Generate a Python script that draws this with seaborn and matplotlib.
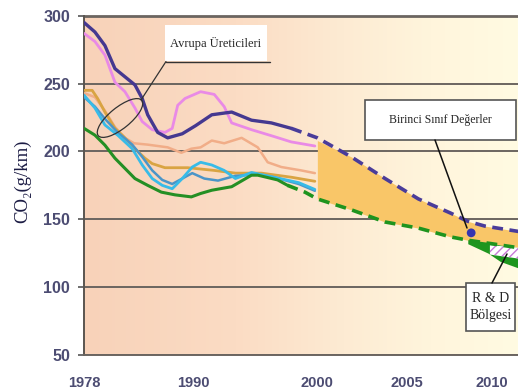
import numpy as np
import pandas as pd
import seaborn as sns
import matplotlib.pyplot as plt
from matplotlib.patches import Ellipse, Rectangle
from matplotlib.lines import Line2D
from matplotlib.colors import LinearSegmentedColormap

W, H = 518, 392

# --- values (year, g/km) ---
purple_years = [1978, 1979.2, 1980.3, 1981.4, 1982.5, 1983.6, 1984.4, 1985.0, 1986.1, 1987.2,
                1988.8, 1990.2, 1991.5, 1993.1, 1994.7, 1996.3, 1997.9]
purple_vals = [295, 288, 278, 261, 255, 249, 239, 227, 214, 210, 213, 219, 227, 229, 223, 221, 217]

purple_dash_years = [1997.9, 2000, 2001.9, 2003.8, 2005.7, 2007.6, 2008.6, 2009.6, 2011.6]
purple_dash_vals = [217, 210, 196, 180, 165, 154.5, 148.5, 145, 141]

pink_years = [1978, 1979.2, 1980.3, 1981.4, 1982.5, 1983.6, 1984.4, 1985.5, 1986.9, 1987.7,
              1988.3, 1989.1, 1990.6, 1991.7, 1992.5, 1993.1, 1994.7, 1996.5, 1997.9, 1999.8]
pink_vals = [287, 281, 271, 251, 244, 232, 222, 216, 214, 217, 234, 239, 244, 242, 233, 221,
             216, 211, 207, 204]

gold_years = [1978, 1978.9, 1979.5, 1980.3, 1981.4, 1982.5, 1983.6, 1984.7, 1985.5, 1986.9,
              1989.4, 1991.7, 1993.4, 1995.5, 1997.9, 1999.8]
gold_vals = [245, 245, 239, 229, 217, 210, 202, 195, 191, 188, 188, 186, 184, 184, 181, 178]

salmon_years = [1978, 1979.2, 1980.3, 1981.4, 1982.5, 1983.5, 1985.0, 1987.2, 1988.7, 1989.8,
                1990.6, 1991.5, 1992.5, 1993.9, 1995.2, 1996.0, 1997.1, 1998.7, 1999.8]
salmon_vals = [243, 240, 230, 218, 210, 206, 205, 203, 199, 202, 203, 208, 206, 210, 203, 192,
               188.5, 186, 184]

cyan_years = [1978, 1979.2, 1980.3, 1981.7, 1983.3, 1984.4, 1985.5, 1986.6, 1987.7, 1988.8,
              1989.9, 1990.6, 1991.5, 1992.5, 1993.4, 1994.7, 1996.5, 1998.5, 1999.8]
cyan_vals = [241.5, 232, 219.5, 212, 202, 190, 180, 175, 172.5, 180, 188.5, 192, 190, 186, 180,
             184.5, 181, 177, 172]

steel_years = [1978, 1979.2, 1980.3, 1981.7, 1983.3, 1984.4, 1985.5, 1986.6, 1987.7, 1988.8,
               1989.9, 1990.9, 1992.0, 1993.4, 1995.2, 1996.5, 1998.5, 1999.8]
steel_vals = [240, 233, 224, 214, 205, 196, 186, 179, 176, 180, 184, 180, 178.5, 182, 183, 181,
              176, 171]

green_years = [1978, 1979.2, 1980.3, 1981.4, 1982.5, 1983.6, 1985.0, 1986.5, 1988.0, 1989.8,
               1990.6, 1991.5, 1993.1, 1994.7, 1995.2, 1996.8, 1997.6]
green_vals = [217, 212, 204.6, 195, 187.5, 180, 175, 170, 168, 166.5, 169, 171.4, 174, 182.5,
              182.5, 179, 175]

green_dash_years = [1997.6, 1999.0, 2000, 2001.9, 2003.8, 2005.7, 2007.6, 2008.6, 2010, 2011.6]
green_dash_vals = [175, 170, 165, 157, 148, 143.5, 137, 134.6, 132, 129]

band_years = [2000, 2001.9, 2003.8, 2005.7, 2007.6, 2008.6, 2009.6, 2011.6]
band_upper = [208, 196, 180, 165, 154.5, 148.5, 145, 141]
band_lower = [165, 157, 148, 143.5, 137, 134.6, 132.5, 129]

rd_years = [2008.6, 2009.8, 2010.5, 2011.6]
rd_upper = [135, 133, 131, 129]
rd_lower = [132, 125, 119, 114]

hatch_years = [2009.9, 2011.6]
hatch_upper = [131, 129]
hatch_lower = [124, 121]

dot_year = [2008.8]
dot_val = [140]

tick_years = [1978, 1990, 2000, 2005, 2010]
tick_labels = ['1978', '1990', '2000', '2005', '2010']
y_ticks = [50, 100, 150, 200, 250, 300]

# the original axis is not linear in time: piecewise scale through the tick marks
scale_years = [1970, 1978, 1990, 2000, 2005, 2010, 2020]
scale_pos = [-72.7, 0, 109, 233, 322, 407, 577]


def fwd(x):
    return np.interp(x, scale_years, scale_pos)


def inv(x):
    return np.interp(x, scale_pos, scale_years)


sns.set_style('white')
fig = plt.figure(figsize=(W / 100, H / 100), dpi=100)
ax = fig.add_axes([84 / W, 1 - 355 / H, 1 - 84 / W, (355 - 15.7) / H])

# background gradient (peach -> pale yellow)
cmap = LinearSegmentedColormap.from_list(
    'bg', [(0, '#f8d2b9'), (0.35, '#fbdcc4'), (0.6, '#fdebd3'), (0.8, '#fff5dc'), (1, '#fffbe2')])
grad = np.linspace(0, 1, 256).reshape(1, -1)
ax.imshow(grad, cmap=cmap, extent=[0, 1, 0, 1], transform=ax.transAxes, aspect='auto', zorder=0)

# projection band
ax.fill_between(band_years, band_lower, band_upper, color='#f9c668', lw=0, zorder=2)
ax.fill_between(rd_years, rd_lower, rd_upper, color='#1e961e', lw=0, zorder=2)
ax.fill_between(hatch_years, hatch_lower, hatch_upper, facecolor='white', edgecolor='#c77ad6',
                hatch='////', lw=0, zorder=3)

series = [
    (pink_years, pink_vals, '#e98ae6', 2.0),
    (salmon_years, salmon_vals, '#f1ad88', 1.8),
    (gold_years, gold_vals, '#d9a443', 2.0),
    (steel_years, steel_vals, '#4b95c8', 1.8),
    (cyan_years, cyan_vals, '#38bbe8', 2.0),
    (green_years, green_vals, '#248f24', 2.2),
    (purple_years, purple_vals, '#453890', 2.4),
]
for xs, ys, c, lw in series:
    sns.lineplot(x=xs, y=ys, color=c, lw=lw, ax=ax, zorder=4)

sns.lineplot(x=green_dash_years, y=green_dash_vals, color='#1e941e', lw=2.6,
             linestyle=(0, (3, 1.8)), ax=ax, zorder=4)
sns.lineplot(x=purple_dash_years, y=purple_dash_vals, color='#4a3c9a', lw=2.6,
             linestyle=(0, (3, 1.8)), ax=ax, zorder=5)
sns.scatterplot(x=dot_year, y=dot_val, color='#3535b0', s=40, edgecolor='none', ax=ax, zorder=6)

ax.set_xscale('function', functions=(fwd, inv))
ax.set_xlim(1978, 2011.55)
ax.set_ylim(50, 300)

ax.set_yticks(y_ticks)
ax.set_xticks(tick_years)
ax.set_xticklabels(tick_labels)
ax.yaxis.grid(True, color='#6b6560', lw=1.4, zorder=1)
ax.set_axisbelow(True)
for lab in ax.get_xticklabels() + ax.get_yticklabels():
    lab.set_family('Liberation Sans')
    lab.set_weight('bold')
    lab.set_color('#4c4c72')
for lab in ax.get_yticklabels():
    lab.set_fontsize(11.5)
for lab in ax.get_xticklabels():
    lab.set_fontsize(10.5)
ax.tick_params(axis='x', length=0, pad=15)
ax.tick_params(axis='y', length=4, width=1.2, color='#555555', pad=6, left=True)

for s in ['top', 'right']:
    ax.spines[s].set_visible(False)
ax.spines['left'].set_color('#5a5550')
ax.spines['left'].set_linewidth(1.4)
ax.spines['bottom'].set_color('#6b6560')
ax.spines['bottom'].set_linewidth(1.4)
ax.axhline(300, color='#6b6560', lw=2.0, clip_on=False, zorder=1)

ax.set_ylabel('CO₂(g/km)', family=['Liberation Serif', 'DejaVu Serif'], fontsize=13.5,
              color='#1c1c44')
ax.yaxis.set_label_coords((31 - 84) / 434, (355 - 181) / 339.3)
ax.set_xlabel('')


def fx(px):
    return px / W


def fy(py):
    return 1 - py / H


tf = fig.transFigure
serif = ['Liberation Serif', 'DejaVu Serif']

# "Avrupa Üreticileri" callout
fig.patches.append(Rectangle((fx(165), fy(61)), (267 - 165) / W, 36 / H, transform=tf,
                             facecolor='white', edgecolor='none', zorder=8))
fig.text(fx(216), fy(43), 'Avrupa Üreticileri', family=serif, fontsize=9, ha='center',
         va='center', zorder=9)
fig.lines.append(Line2D([fx(166), fx(270)], [fy(61.5), fy(61.5)], transform=tf,
                        color='#333333', lw=1.0, zorder=9))
fig.lines.append(Line2D([fx(166), fx(141)], [fy(61.5), fy(100)], transform=tf,
                        color='#333333', lw=0.9, zorder=9))
fig.patches.append(Ellipse((1.20, (H - 118) / 100), 0.56, 0.21, angle=39,
                           transform=fig.dpi_scale_trans, fill=False, edgecolor='#333333',
                           lw=0.9, zorder=9))

# "Birinci Sınıf Değerler" callout
fig.patches.append(Rectangle((fx(365), fy(140)), (516 - 365) / W, 40 / H, transform=tf,
                             facecolor='white', edgecolor='#555555', lw=1.2, zorder=8))
fig.text(fx(440), fy(120), 'Birinci Sınıf Değerler', family=serif, fontsize=8.5, ha='center',
         va='center', zorder=9)
fig.lines.append(Line2D([fx(435), fx(467)], [fy(140), fy(228)], transform=tf,
                        color='#111111', lw=1.1, zorder=9))

# "R & D Bölgesi" callout
fig.patches.append(Rectangle((fx(466), fy(331)), (515 - 466) / W, 48 / H, transform=tf,
                             facecolor='white', edgecolor='#555555', lw=1.2, zorder=8))
fig.text(fx(491), fy(307), 'R & D\nBölgesi', family=serif, fontsize=10, ha='center',
         va='center', linespacing=1.4, zorder=9)
fig.lines.append(Line2D([fx(492), fx(507)], [fy(283), fy(254)], transform=tf,
                        color='#111111', lw=1.1, zorder=9))

fig.savefig('out.png', dpi=100)
